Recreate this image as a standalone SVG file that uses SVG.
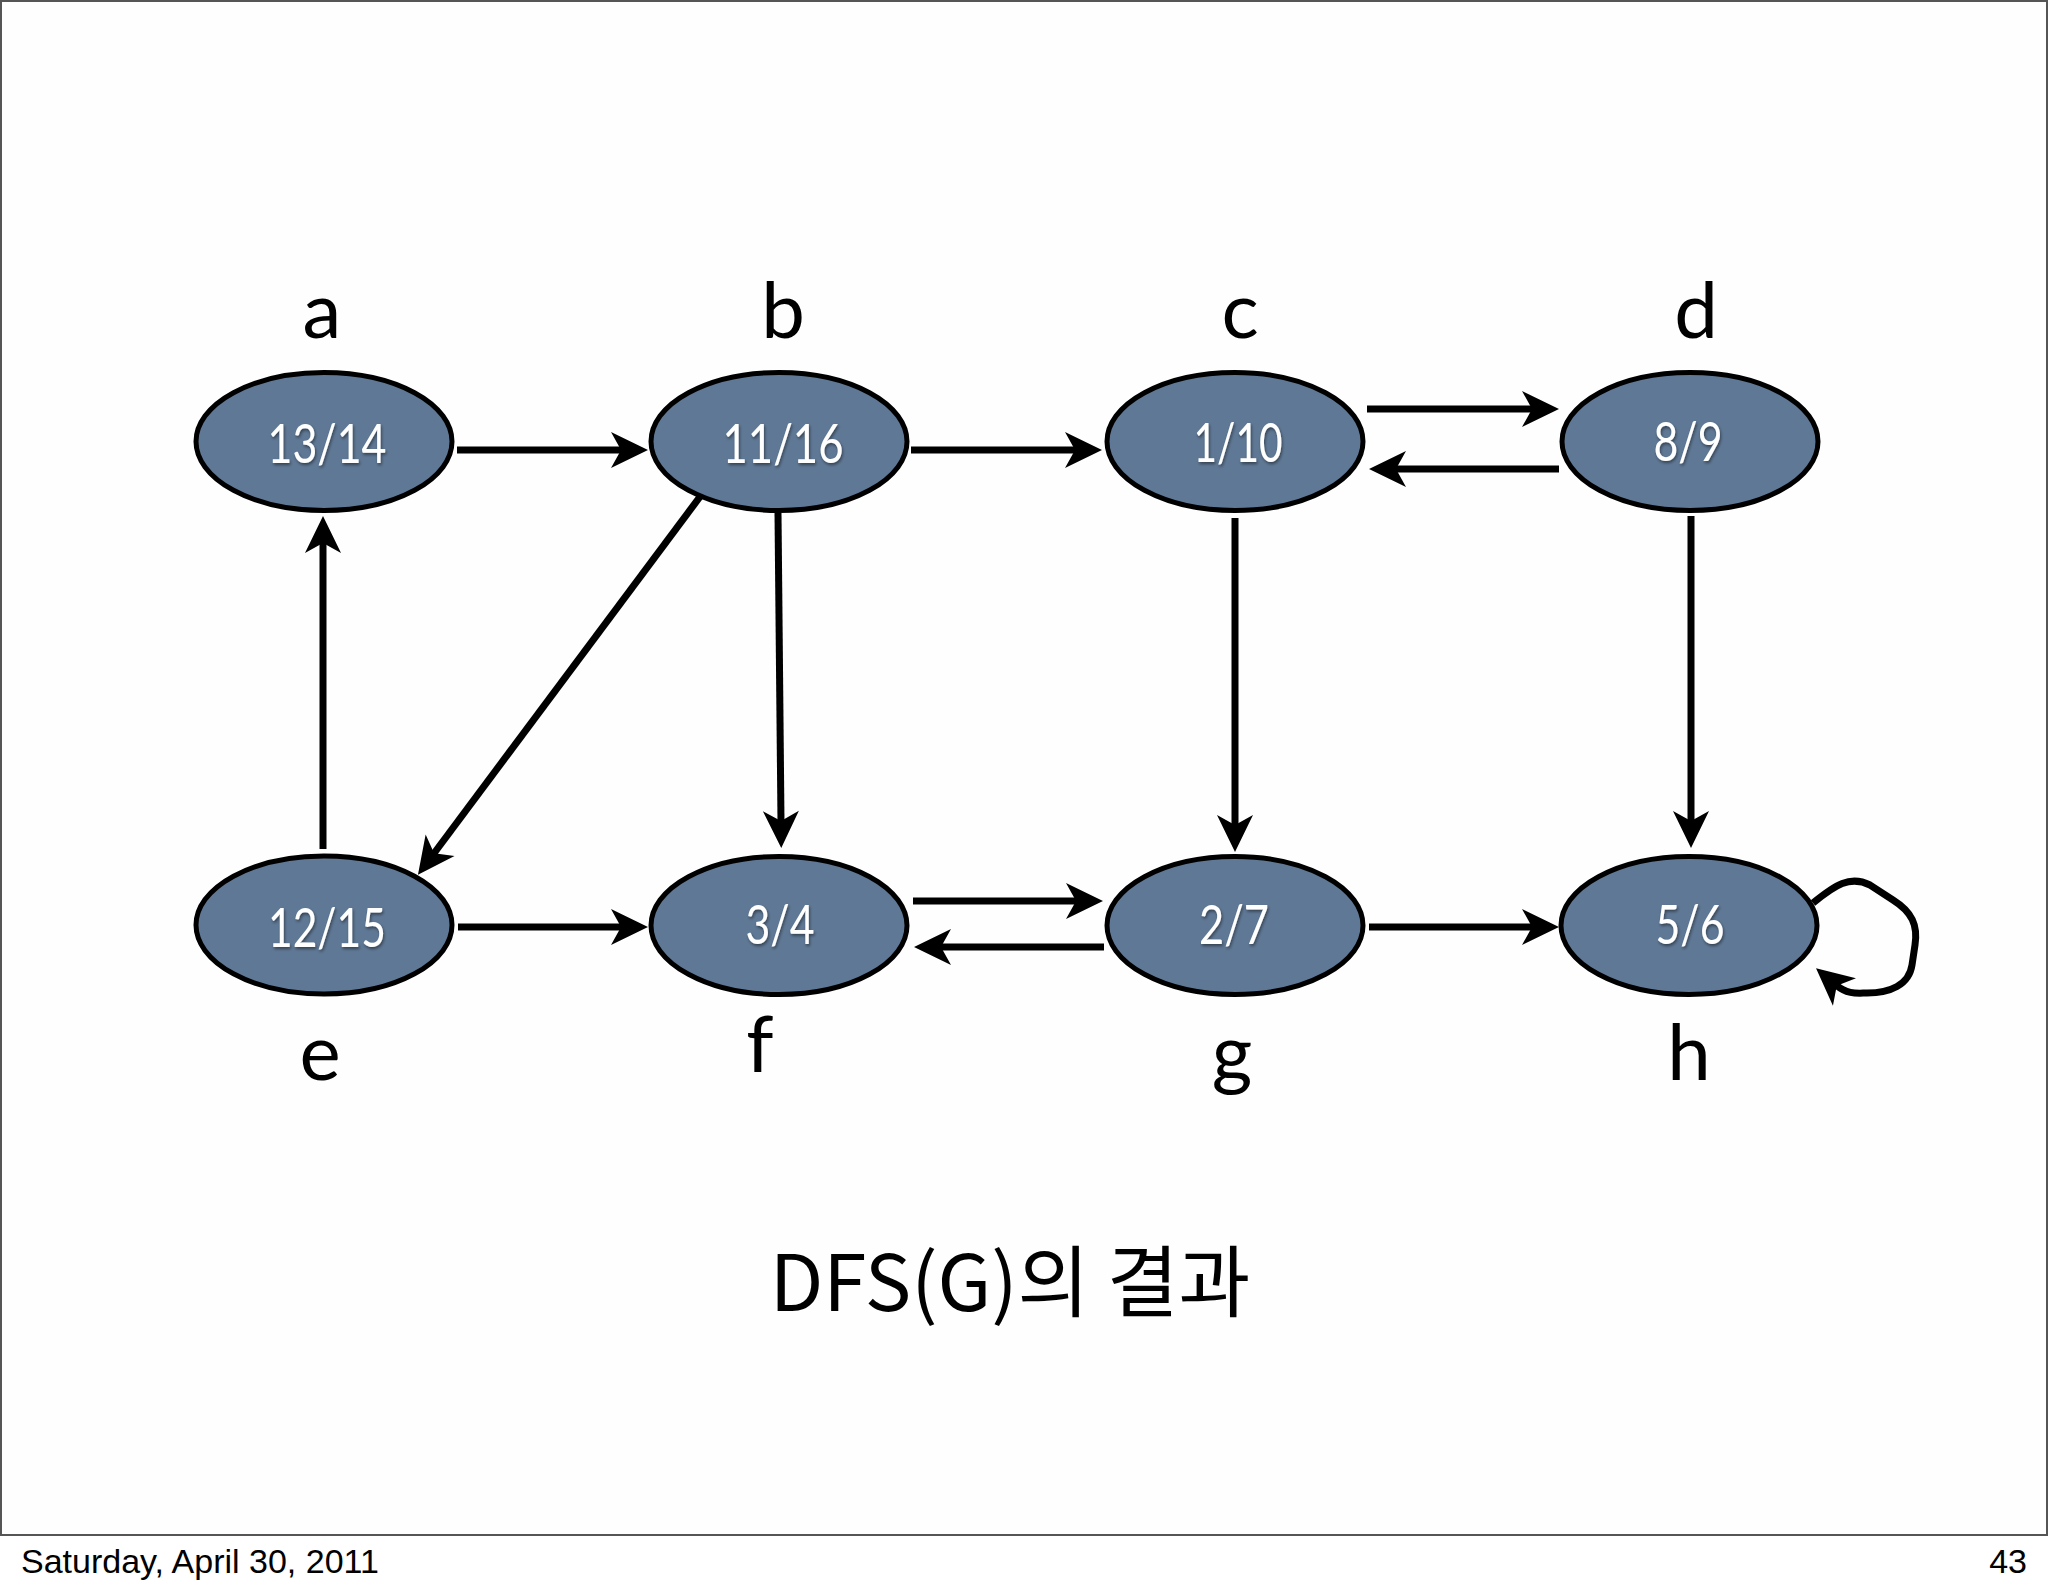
<svg xmlns="http://www.w3.org/2000/svg" width="2048" height="1593" viewBox="0 0 2048 1593">
  <style>
    .node { fill: #5f7895; stroke: #000; stroke-width: 5; }
    .num { font-family: Lato, "Open Sans", sans-serif; font-size: 54px; fill: #fff; text-anchor: middle; filter: url(#shadow); }
    .lbl { font-family: Lato, "Open Sans", sans-serif; font-size: 78px; fill: #000; text-anchor: middle; }
    .edge { fill: none; stroke: #000; stroke-width: 7; marker-end: url(#arrow); }
    .foot { font-family: "Liberation Sans", Arial, sans-serif; font-size: 34px; fill: #000; }
    .title { font-family: "Noto Sans CJK KR", "Noto Sans", sans-serif; font-size: 78px; fill: #000; text-anchor: middle; }
  </style>
  <defs>
    <marker id="arrow" markerUnits="userSpaceOnUse" viewBox="-40 -20 40 40" markerWidth="40" markerHeight="40" refX="-26" refY="0" orient="auto">
      <path d="M0,0 L-37,-18 L-27,0 L-37,18 Z" fill="#000"/>
    </marker>
    <filter id="shadow" x="-20%" y="-20%" width="140%" height="160%">
      <feDropShadow dx="1" dy="2" stdDeviation="1.5" flood-color="#000" flood-opacity="0.45"/>
    </filter>
  </defs>
  <rect x="0" y="0" width="2048" height="1593" fill="#fff"/>
  <rect x="1" y="1" width="2046" height="1534" fill="#fefefe" stroke="#555" stroke-width="2"/>

  <g id="connectors">
    <path class="edge" d="M457,450 L622,450"/>
    <path class="edge" d="M911,450 L1076,450"/>
    <path class="edge" d="M1367,409 L1533,409"/>
    <path class="edge" d="M1559,469 L1395,469"/>
    <path class="edge" d="M705,490 L433.5,854"/>
    <path class="edge" d="M778,513 L781,822"/>
    <path class="edge" d="M1235,518 L1235,826"/>
    <path class="edge" d="M1691,516 L1691,822"/>
    <path class="edge" d="M323,849 L323,542"/>
    <path class="edge" d="M458,927 L622,927"/>
    <path class="edge" d="M913,901 L1077,901"/>
    <path class="edge" d="M1104,947 L940,947"/>
    <path class="edge" d="M1369,927 L1533,927"/>
    <path class="edge" d="M1813,903 C1835,885 1850,875 1870,885 L1893,900 C1912,912 1918,925 1915,945 L1912,965 C1909,985 1890,993 1867,993 C1858,993 1848,995 1836,985"/>
  </g>

  <g id="node-a">
    <ellipse class="node" cx="324" cy="441.5" rx="128" ry="69"/>
    <text class="num" x="327" y="463" textLength="119" lengthAdjust="spacingAndGlyphs">13/14</text>
    <text class="lbl" x="322" y="338">a</text>
  </g>
  <g id="node-b">
    <ellipse class="node" cx="779" cy="441.5" rx="128" ry="69"/>
    <text class="num" x="783" y="463" textLength="121" lengthAdjust="spacingAndGlyphs">11/16</text>
    <text class="lbl" x="783" y="338">b</text>
  </g>
  <g id="node-c">
    <ellipse class="node" cx="1235" cy="441.5" rx="128" ry="69"/>
    <text class="num" x="1238" y="462" textLength="89" lengthAdjust="spacingAndGlyphs">1/10</text>
    <text class="lbl" x="1240" y="338">c</text>
  </g>
  <g id="node-d">
    <ellipse class="node" cx="1690" cy="441.5" rx="128" ry="69"/>
    <text class="num" x="1688" y="461" textLength="69" lengthAdjust="spacingAndGlyphs">8/9</text>
    <text class="lbl" x="1696" y="338">d</text>
  </g>
  <g id="node-e">
    <ellipse class="node" cx="324" cy="925" rx="128" ry="69"/>
    <text class="num" x="327" y="947" textLength="118" lengthAdjust="spacingAndGlyphs">12/15</text>
    <text class="lbl" x="320" y="1080">e</text>
  </g>
  <g id="node-f">
    <ellipse class="node" cx="779" cy="925.5" rx="128" ry="69"/>
    <text class="num" x="780" y="944" textLength="69" lengthAdjust="spacingAndGlyphs">3/4</text>
    <text class="lbl" x="760" y="1072">f</text>
  </g>
  <g id="node-g">
    <ellipse class="node" cx="1235" cy="925.5" rx="128" ry="69"/>
    <text class="num" x="1234" y="944" textLength="70" lengthAdjust="spacingAndGlyphs">2/7</text>
    <text class="lbl" x="1232" y="1080">g</text>
  </g>
  <g id="node-h">
    <ellipse class="node" cx="1689" cy="925.5" rx="128" ry="69"/>
    <text class="num" x="1690" y="944" textLength="69" lengthAdjust="spacingAndGlyphs">5/6</text>
    <text class="lbl" x="1689" y="1080">h</text>
  </g>

  <text class="title" x="1010" y="1311">DFS(G)의 결과</text>
  <text class="foot" x="21" y="1573">Saturday, April 30, 2011</text>
  <text class="foot" x="2027" y="1573" text-anchor="end">43</text>
</svg>
